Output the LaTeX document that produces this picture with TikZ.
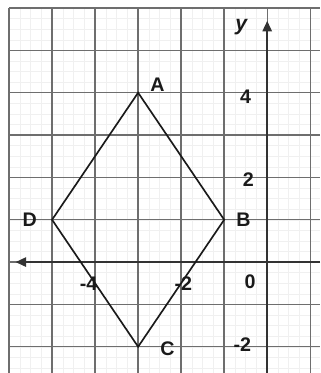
\documentclass[tikz,border=0pt]{standalone}
\usepackage{fontspec}
\setmainfont{Liberation Sans}
\usetikzlibrary{arrows.meta}
\definecolor{gridgrey}{HTML}{6E6E6E}
\definecolor{faintgrey}{HTML}{F0F0F0}
\definecolor{axisgrey}{HTML}{333333}
\definecolor{inkcol}{HTML}{1A1A1A}
\tikzset{
  lbl/.style={font=\fontsize{13}{15}\selectfont\bfseries, text=inkcol, inner sep=0pt},
  side/.style={draw=inkcol, line width=1.1pt, line join=miter},
  axis/.style={draw=axisgrey, line width=1.6pt, -{Triangle[length=7pt,width=6pt]}}
}
\begin{document}
\begin{tikzpicture}[x=1cm, y=0.984cm]
  % page: 320x373 px, one grid unit = 43 px
  \useasboundingbox (-6.21,-2.62) rectangle (1.23,6.19);

  % ===== grid =====
  \draw[faintgrey, line width=0.3pt, step=0.25] (-6,-2.62) grid (1.23,6);
  \foreach \x in {-6,...,1}{
    \draw[gridgrey, line width=0.9pt] (\x,-2.62) -- (\x,6);
  }
  \foreach \y in {-2,...,6}{
    \draw[gridgrey, line width=0.9pt] (-6,\y) -- (1.23,\y);
  }

  % ===== axes =====
  \coordinate (xend) at (1.23,0);
  \coordinate (xtip) at (-5.85,0);
  \coordinate (yend) at (0,-2.62);
  \coordinate (ytip) at (0,5.7);
  \draw[axis] (xend) -- (xtip);
  \draw[axis] (yend) -- (ytip);

  % ===== axis labels =====
  \node[lbl, font=\fontsize{14}{16}\selectfont\bfseries\itshape] (ylab) at (-0.6,5.55) {y};
  \node[lbl] (yfour) at (-0.5,3.9) {4};
  \node[lbl] (ytwo) at (-0.44,1.94) {2};
  \node[lbl] (orig) at (-0.4,-0.47) {0};
  \node[lbl] (ymtwo) at (-0.58,-1.96) {-2};
  \node[lbl] (xmfour) at (-4.15,-0.5) {-4};
  \node[lbl] (xmtwo) at (-1.95,-0.5) {-2};

  % ===== rhombus ABCD =====
  \coordinate (A) at (-3,4);
  \coordinate (B) at (-1,1);
  \coordinate (C) at (-3,-2);
  \coordinate (D) at (-5,1);
  \draw[side] (A) -- (B) -- (C) -- (D) -- cycle;

  \node[lbl] (Alab) at (-2.55,4.18) {A};
  \node[lbl] (Blab) at (-0.55,0.99) {B};
  \node[lbl] (Clab) at (-2.32,-2.04) {C};
  \node[lbl] (Dlab) at (-5.52,0.99) {D};
\end{tikzpicture}
\end{document}
